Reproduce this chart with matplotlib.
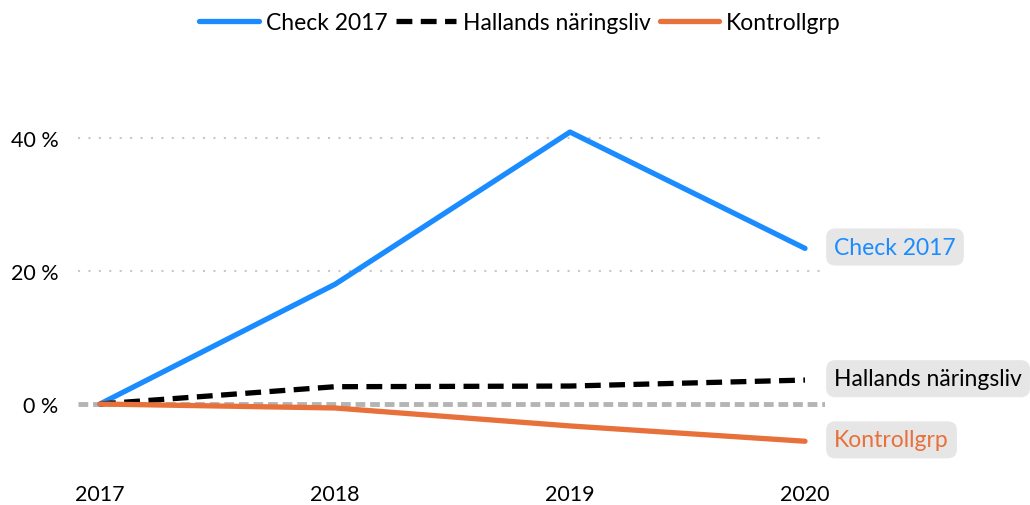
import numpy as np
import matplotlib.pyplot as plt

plt.rcParams['font.family'] = ['Lato', 'DejaVu Sans']

years = [2017, 2018, 2019, 2020]
check = [0.0, 18.0, 40.9, 23.4]
hallands = [0.0, 2.6, 2.7, 3.6]
kontroll = [0.0, -0.6, -3.3, -5.6]
yticks = [0, 20, 40]

c_blue = '#1a8cff'
c_black = '#000000'
c_orange = '#e8703a'

fig = plt.figure(figsize=(10.3, 5.06), dpi=100)
ax = fig.add_axes([78 / 1030, 1 - 471.5 / 506, 747 / 1030, 365.75 / 506])

for t in yticks[1:]:
    ax.axhline(t, color='#c8c8c8', linewidth=1.5, linestyle=(0, (1, 4)), zorder=1)
ax.axhline(0, color='#b4b4b4', linewidth=3.5, linestyle=(0, (2, 1)), zorder=1)

l1, = ax.plot(years, check, color=c_blue, linewidth=3.8, solid_capstyle='round', label='Check 2017', zorder=3)
l2, = ax.plot(years, hallands, color=c_black, linewidth=3.8, linestyle=(0, (3, 1.6)), label='Hallands näringsliv', zorder=3)
l3, = ax.plot(years, kontroll, color=c_orange, linewidth=3.8, solid_capstyle='round', label='Kontrollgrp', zorder=3)

for y, name, col in [(check[-1], 'Check 2017', c_blue),
                     (hallands[-1], 'Hallands näringsliv', c_black),
                     (kontroll[-1], 'Kontrollgrp', c_orange)]:
    ax.annotate(name, xy=(years[-1], y), xytext=(21, 1), textcoords='offset points',
                ha='left', va='center', color=col, fontsize=16.5,
                bbox=dict(boxstyle='round,pad=0.35,rounding_size=0.4', fc='#e6e6e6', ec='none'),
                annotation_clip=False)

ax.set_xlim(2017 - 22 / 235, 2020 + 20 / 235)
ax.set_ylim(-10, 45)
ax.set_xticks(years)
ax.set_xticklabels([str(y) for y in years], fontsize=15.5)
ax.set_yticks(yticks)
ax.set_yticklabels([f'{t} %' for t in yticks], fontsize=15.5)
ax.tick_params(length=0)
ax.tick_params(axis='x', pad=10)
ax.tick_params(axis='y', pad=14)
for s in ax.spines.values():
    s.set_visible(False)

fig.legend(handles=[l1, l2, l3], loc='upper center', bbox_to_anchor=(0.505, 1.016), ncol=3,
           frameon=False, fontsize=16.5, handlelength=2.6, handletextpad=0.3, columnspacing=0.4)

fig.savefig('out.png', dpi=100)
